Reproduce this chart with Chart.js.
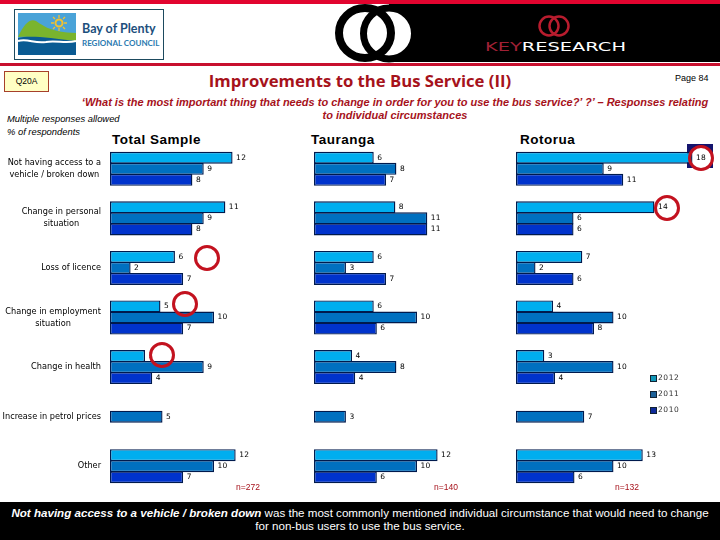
<!DOCTYPE html>
<html>
<head>
<meta charset="utf-8">
<title>Improvements to the Bus Service (II)</title>
<script src="https://cdn.jsdelivr.net/npm/chart.js@4"></script>
<style>
    body { margin: 0; background: #fff; overflow: hidden; }
    #page { position: relative; width: 720px; height: 540px; overflow: hidden; font-family: "Liberation Sans", Arial, sans-serif; }
    #page > * { position: absolute; }
    canvas { display: block; }
    .heading { top: 132px; font-size: 13.5px; font-weight: bold; color: #000; letter-spacing: .5px; white-space: nowrap; }
    .base { top: 482px; font-size: 8.5px; color: #a6121b; }
    .ring { width: 20px; height: 20px; border: 3px solid #c3121f; border-radius: 50%; }
    .legendSwatch { width: 5px; height: 5px; border: 1px solid #123; }
    .legendText { font: 7.5px "DejaVu Sans", sans-serif; letter-spacing: .6px; color: #333; }
</style>
</head>
<body>
<div id="page">
    <svg style="left:0;top:0" width="720" height="66">
        <rect x="389" y="4" width="331" height="58" fill="#000"/>
        <rect x="0" y="0" width="720" height="4" fill="#e2042f"/>
        <rect x="0" y="63" width="720" height="3" fill="#c8102e"/>
        <rect x="14.5" y="9.5" width="149" height="50" fill="#fff" stroke="#1d4a5e"/>
        <rect x="18" y="13" width="58" height="42" fill="#4aa3d8"/>
        <path d="M18 37 C24 24 30 18 36 21 C44 26 50 32 76 33 V41 C56 40 40 36 18 37 Z" fill="#7ab42d"/>
        <path d="M18 38 C30 35 50 38 76 41 V55 H18 Z" fill="#0a5b93"/>
        <path d="M18 41 C28 38 34 44 46 42 C56 40 66 44 76 41" fill="none" stroke="#fff" stroke-width="2"/>
        <circle cx="59" cy="23" r="3.5" fill="none" stroke="#f2c230" stroke-width="2"/>
        <path d="M59 15 V18 M59 28 V31 M51 23 H54 M64 23 H67 M53 17 L55 19 M63 27 L65 29 M53 29 L55 27 M63 19 L65 17" stroke="#f2c230" stroke-width="1.3"/>
        <text x="82" y="33" font-family="Lato, sans-serif" font-weight="bold" font-size="12.5" fill="#1d4f7c">Bay of Plenty</text>
        <text x="82" y="46" font-family="Lato, sans-serif" font-weight="bold" font-size="8" fill="#2a7ab0">REGIONAL COUNCIL</text>
        <circle cx="389" cy="33.5" r="25.5" fill="#fff" stroke="#000" stroke-width="7"/>
        <ellipse cx="365" cy="33" rx="26" ry="25" fill="none" stroke="#000" stroke-width="8"/>
        <circle cx="549" cy="26" r="9.5" fill="none" stroke="#b81c2e" stroke-width="2.5"/>
        <circle cx="559" cy="26" r="9.5" fill="none" stroke="#b81c2e" stroke-width="2.5"/>
        <text x="485" y="51" font-family="DejaVu Sans, sans-serif" font-size="13" textLength="141" lengthAdjust="spacingAndGlyphs" fill="#fff"><tspan fill="#a02035">KEY</tspan>RESEARCH</text>
    </svg>

    <div style="left:4px;top:71px;width:43px;height:19px;background:#ffffc4;border:1px solid #a6402a;font-size:8.5px;line-height:19px;text-align:center">Q20A</div>
    <div style="left:160px;top:69px;width:400px;text-align:center;font:bold 16.7px 'Open Sans',sans-serif;color:#a6121b;white-space:nowrap">Improvements to the Bus Service (II)</div>
    <div style="left:675px;top:73px;font-size:9px;white-space:nowrap">Page 84</div>
    <div style="left:70px;top:96px;width:650px;text-align:center;font-size:11px;font-weight:bold;font-style:italic;line-height:13px;color:#a6121b;white-space:nowrap">‘What is the most important thing that needs to change in order for you to use the bus service?’ ?’ – Responses relating<br>to individual circumstances</div>
    <div style="left:7px;top:112px;font-size:9.4px;font-style:italic;line-height:13px;white-space:nowrap">Multiple responses allowed<br>% of respondents</div>

    <div class="heading" style="left:112px">Total Sample</div>
    <div class="heading" style="left:311px">Tauranga</div>
    <div class="heading" style="left:520px">Rotorua</div>

    <!-- backing of the highlighted values, sits under the Rotorua chart -->
    <div style="left:687px;top:144px;width:26px;height:24px;background:#14146e"></div>
    <div style="left:689px;top:146px;width:23px;height:23px;border-radius:50%;background:#fff"></div>
    <div style="left:655px;top:196px;width:23px;height:23px;border-radius:50%;background:#fff"></div>

    <canvas id="totalChart" width="316" height="347" style="left:0;top:144px"></canvas>
    <canvas id="taurangaChart" width="206" height="347" style="left:314px;top:144px"></canvas>
    <canvas id="rotoruaChart" width="195" height="347" style="left:516px;top:144px"></canvas>

    <!-- the circle in the source covers most of the label of this bar -->
    <div style="left:150px;top:350px;width:6px;height:10px;background:#fff"></div>

    <div class="ring" style="left:194px;top:245px"></div>
    <div class="ring" style="left:172px;top:291px"></div>
    <div class="ring" style="left:149px;top:342px"></div>
    <div class="ring" style="left:688px;top:145px"></div>
    <div class="ring" style="left:654px;top:195px"></div>

    <div class="base" style="left:236px">n=272</div>
    <div class="base" style="left:434px">n=140</div>
    <div class="base" style="left:615px">n=132</div>

    <div id="legend" style="left:0;top:0"></div>

    <div style="left:0;top:502px;width:720px;height:34px;background:#000;color:#fff;text-align:center;font-size:11.6px;line-height:13px;padding-top:4px"><b><i>Not having access to a vehicle / broken down</i></b> was the most commonly mentioned individual circumstance that would need to change<br>for non-bus users to use the bus service.</div>
</div>

<script>
const categories = [
    ['Not having access to a', 'vehicle / broken down'],
    ['Change in personal', 'situation'],
    ['Loss of licence'],
    ['Change in employment', 'situation'],
    ['Change in health'],
    ['Increase in petrol prices'],
    ['Other']
];
const years = ['2012', '2011', '2010'];
const barColours = ['#00aeef', '#0070c0', '#0033cc'];
const legendColours = ['#1097b8', '#1b6098', '#0e2a9a'];

// bar lengths, the printed labels are these rounded
const total2012 = [11.9, 11.2, 6.3, 4.9, 3.4, null, 12.2];
const total2011 = [9.1, 9.1, 2, 10.1, 9.1, 5.1, 10.1];
const total2010 = [8, 8, 7.1, 7.1, 4.1, null, 7.1];

const tauranga2012 = [5.8, 7.9, 5.8, 5.8, 3.7, null, 12];
const tauranga2011 = [8, 11, 3.1, 10, 8, 3.1, 10];
const tauranga2010 = [7, 11, 7, 6.1, 4, null, 6.1];

const rotorua2012 = [18.1, 14.2, 6.8, 3.8, 2.9, null, 13];
const rotorua2011 = [9, 5.9, 2, 10, 10, 7, 10];
const rotorua2010 = [11, 5.9, 5.9, 8, 4, null, 6];

// number at the end of each bar
const barValues = {
    id: 'barValues',
    afterDatasetsDraw(chart) {
        const ctx = chart.ctx;
        ctx.save();
        ctx.font = '7.5px "DejaVu Sans", sans-serif';
        ctx.letterSpacing = '0.3px';
        ctx.fillStyle = '#000';
        ctx.textBaseline = 'middle';
        chart.data.datasets.forEach((ds, i) => {
            chart.getDatasetMeta(i).data.forEach((bar, j) => {
                if (ds.data[j] === null) return;
                ctx.fillText(Math.round(ds.data[j]), bar.x + 3.5, bar.y);
            });
        });
        ctx.restore();
    }
};

// category text, each block is right aligned and its lines centred
const categoryText = {
    id: 'categoryText',
    afterDraw(chart) {
        const ctx = chart.ctx;
        const scale = chart.scales.y;
        ctx.save();
        ctx.font = '8.2px "DejaVu Sans", sans-serif';
        ctx.fillStyle = '#000';
        ctx.textAlign = 'center';
        ctx.textBaseline = 'middle';
        categories.forEach((lines, i) => {
            const y = scale.getPixelForValue(i);
            const widest = Math.max(...lines.map(l => ctx.measureText(l).width));
            lines.forEach((line, k) => {
                ctx.fillText(line, 101 - widest / 2, y + (k - (lines.length - 1) / 2) * 12);
            });
        });
        ctx.restore();
    }
};

function drawPanel(id, s2012, s2011, s2010, leftGap, plugins) {
    const series = [s2012, s2011, s2010];
    new Chart(document.getElementById(id), {
        type: 'bar',
        data: {
            labels: categories.map(c => c.join(' ')),
            datasets: years.map((year, i) => ({
                label: year,
                data: series[i],
                backgroundColor: barColours[i],
                borderColor: '#001a4d',
                borderWidth: 1.4,
                borderSkipped: false,
                categoryPercentage: 0.667,
                barPercentage: 1.09
            }))
        },
        options: {
            indexAxis: 'y',
            responsive: false,
            animation: false,
            layout: { padding: { left: leftGap } },
            plugins: { legend: { display: false }, tooltip: { enabled: false } },
            scales: {
                x: { display: false, min: 0, max: 20 },
                y: { display: false }
            }
        },
        plugins: plugins
    });
}

drawPanel('totalChart', total2012, total2011, total2010, 110, [barValues, categoryText]);
drawPanel('taurangaChart', tauranga2012, tauranga2011, tauranga2010, 0, [barValues]);
drawPanel('rotoruaChart', rotorua2012, rotorua2011, rotorua2010, 0, [barValues]);

// legend sits in the gap right of the Rotorua bars
const legend = document.getElementById('legend');
years.forEach((year, i) => {
    const top = 375 + i * 16;
    legend.insertAdjacentHTML('beforeend',
        `<div class="legendSwatch" style="position:absolute;left:650px;top:${top}px;background:${legendColours[i]}"></div>` +
        `<div class="legendText" style="position:absolute;left:658px;top:${top - 2}px">${year}</div>`);
});
</script>
</body>
</html>
